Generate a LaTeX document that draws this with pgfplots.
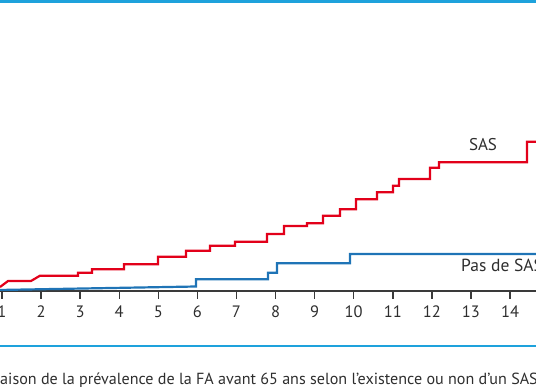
\documentclass[border=0pt]{standalone}
\usepackage{pgfplots}
\pgfplotsset{compat=1.18}
\usepackage{fontspec}
\setmainfont{PT Sans}
\definecolor{sasred}{HTML}{E2001A}
\definecolor{nosasblue}{HTML}{1F74B6}
\definecolor{frameblue}{HTML}{1EA2DC}
\definecolor{txt}{HTML}{2E2E2E}
\definecolor{axisgray}{HTML}{3A3A3A}
\begin{document}
\begin{tikzpicture}[x=1pt,y=1pt]
\path[use as bounding box] (0,0) rectangle (536,386);
\clip (0,0) rectangle (536,386);
\begin{axis}[
  at={(0pt,95pt)}, anchor=south west,
  scale only axis, width=536pt, height=289pt,
  xmin=0.949, xmax=14.664, ymin=0, ymax=28.9,
  axis y line=none, axis x line*=bottom,
  x axis line style={-, draw=axisgray, line width=1.4pt},
  xtick={1,...,14}, tick align=outside, major tick length=8pt,
  xtick style={draw=axisgray, line width=1.4pt},
  ytick=\empty,
  xticklabel style={font=\fontsize{16.5}{19}\selectfont, text=txt, yshift=-3pt},
  /pgf/number format/assume math mode=true,
  clip=true,
]
\addplot[sasred, line width=2.2pt] coordinates {
 (0.949,0.40) (1.154,1.00) (1.742,1.00) (1.972,1.53) (2.945,1.53) (2.945,1.83)
 (3.303,1.83) (3.303,2.17) (4.122,2.17) (4.122,2.67) (4.992,2.67) (4.992,3.43)
 (5.708,3.43) (5.708,4.03) (6.322,4.03) (6.322,4.53) (6.962,4.53) (6.962,4.93)
 (7.781,4.93) (7.781,5.70) (8.216,5.70) (8.216,6.50) (8.805,6.50) (8.805,6.77)
 (9.214,6.77) (9.214,7.53) (9.649,7.53) (9.649,8.17) (10.058,8.17) (10.058,9.17)
 (10.596,9.17) (10.596,9.87) (11.005,9.87) (11.005,10.53) (11.159,10.53) (11.159,11.20)
 (11.952,11.20) (11.952,12.33) (12.182,12.33) (12.182,12.87) (14.434,12.87) (14.434,14.93)
 (14.80,14.93)
};
\addplot[nosasblue, line width=2.2pt] coordinates {
 (0.90,0.10) (5.964,0.45) (5.964,1.17) (7.806,1.17) (7.806,1.83) (8.037,1.83)
 (8.037,2.77) (9.905,2.77) (9.905,3.70) (14.80,3.70)
};
\end{axis}
\draw[frameblue, line width=2.6pt] (0,384.7) -- (536,384.7);
\draw[frameblue, line width=1.5pt] (0,40) -- (536,40);
\node[text=txt, font=\fontsize{17}{20}\selectfont, inner sep=0] at (483,241) {SAS};
\node[text=txt, font=\fontsize{17.5}{20}\selectfont, inner sep=0, anchor=west] at (461,120.3) {Pas de SAS};
\node[text=txt, font=\fontsize{16.1}{19}\selectfont, inner sep=0, anchor=base west] at (0,1.8)
  {\llap{Compar}aison de la prévalence de la FA avant 65 ans selon l’existence ou non d’un SAS};
\end{tikzpicture}
\end{document}
